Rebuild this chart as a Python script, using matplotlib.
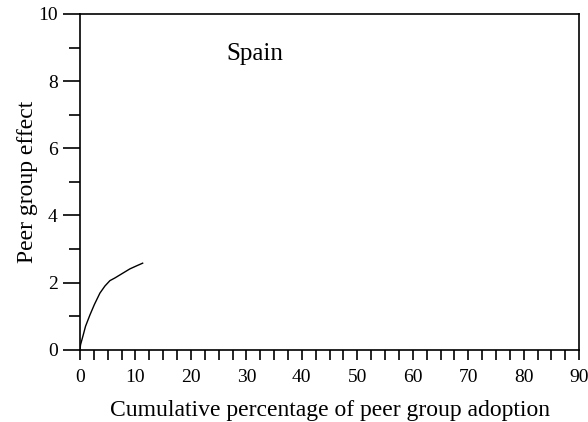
import numpy as np
import matplotlib.pyplot as plt
from matplotlib.ticker import MultipleLocator

# peer group curve for Spain
adoption = [0.0, 0.1, 0.6, 1.0, 1.8, 2.6, 3.6, 4.5, 5.4, 6.3, 7.2, 8.1, 9.0, 10.2, 11.3]
effect = [0.0, 0.15, 0.45, 0.7, 1.04, 1.35, 1.69, 1.9, 2.06, 2.14, 2.23, 2.32, 2.41, 2.5, 2.58]

plt.rcParams['font.family'] = ['Liberation Serif', 'DejaVu Serif']

fig = plt.figure(figsize=(5.88, 4.22), dpi=100)
ax = fig.add_axes([0.136, 0.171, 0.849, 0.796])
ax.plot(adoption, effect, color='black', linewidth=1.0)

ax.set_xlim(0, 90)
ax.set_ylim(0, 10)
ax.xaxis.set_major_locator(MultipleLocator(10))
ax.xaxis.set_minor_locator(MultipleLocator(2.5))
ax.yaxis.set_major_locator(MultipleLocator(2))
ax.yaxis.set_minor_locator(MultipleLocator(1))
ax.tick_params(axis='x', which='both', direction='out', length=7, width=1.2, labelsize=14, pad=7)
ax.tick_params(axis='y', which='major', direction='out', length=12, width=1.2, labelsize=14, pad=4)
ax.tick_params(axis='y', which='minor', direction='out', length=8, width=1.2)
for s in ax.spines.values():
    s.set_linewidth(1.2)

ax.text(31.5, 8.8, 'Spain', fontsize=18, ha='center', va='center')
ax.set_xlabel('Cumulative percentage of peer group adoption', fontsize=17, labelpad=10)
ax.set_ylabel('Peer group effect', fontsize=17, labelpad=0)

fig.savefig('out.png', dpi=100)
